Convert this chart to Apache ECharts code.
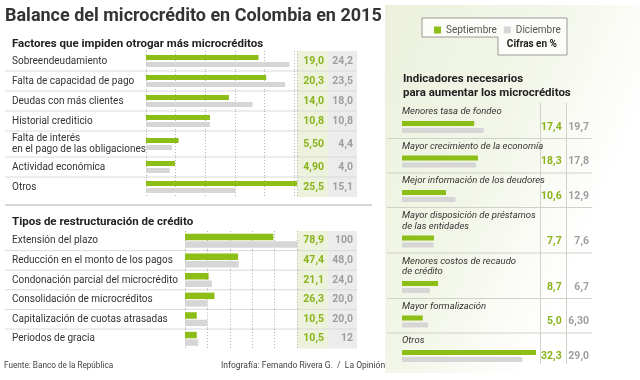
<!DOCTYPE html>
<html><head><meta charset="utf-8">
<script src="https://cdn.jsdelivr.net/npm/echarts@6/dist/echarts.min.js"></script>
<style>html,body{margin:0;padding:0;background:#fff}#c{width:640px;height:380px}</style>
</head><body><div id="c"></div>
<script>
// ---------- data ----------
const titleText = 'Balance del microcrédito en Colombia en 2015';
const legendNames = ['Septiembre', 'Diciembre'];
const unitNote = 'Cifras en %';

const factorHeading = 'Factores que impiden otrogar más microcréditos';
const factorLabels = ['Sobreendeudamiento', 'Falta de capacidad de pago', 'Deudas con más clientes',
  'Historial crediticio', 'Falta de interés\nen el pago de las obligaciones', 'Actividad económica', 'Otros'];
const factorSep = ['19,0', '20,3', '14,0', '10,8', '5,50', '4,90', '25,5'];
const factorDic = ['24,2', '23,5', '18,0', '10,8', '4,4', '4,0', '15,1'];

const tiposHeading = 'Tipos de restructuración de crédito';
const tiposLabels = ['Extensión del plazo', 'Reducción en el monto de los pagos', 'Condonación parcial del microcrédito',
  'Consolidación de microcréditos', 'Capitalización de cuotas atrasadas', 'Periodos de gracia'];
const tiposSep = ['78,9', '47,4', '21,1', '26,3', '10,5', '10,5'];
const tiposDic = ['100', '48,0', '24,0', '20,0', '20,0', '12'];

const indHeading = 'Indicadores necesarios\npara aumentar los microcréditos';
const indLabels = ['Menores tasa de fondeo', 'Mayor crecimiento de la economía', 'Mejor información de los deudores',
  'Mayor disposición de préstamos\nde las entidades', 'Menores costos de recaudo\nde crédito', 'Mayor formalización', 'Otros'];
const indSep = ['17,4', '18,3', '10,6', '7,7', '8,7', '5,0', '32,3'];
const indDic = ['19,7', '17,8', '12,9', '7,6', '6,7', '6,30', '29,0'];

const sourceText = 'Fuente: Banco de la República';
const creditText = 'Infografía: Fernando Rivera G.  /  La Opinión';

// ---------- styling / layout ----------
const FONT = 'Roboto, "Noto Sans", sans-serif';
const GREEN = '#8dbd17', GRAYBAR = '#d6d6d6';
const GREEN_TXT = '#8ab41b', GRAY_TXT = '#9e9e9e', DARK = '#333';
const num = s => parseFloat(s.replace(',', '.'));

const option = { animation: false, grid: [], xAxis: [], yAxis: [], series: [], graphic: [],
  legend: { data: legendNames, left: 434, top: 25, padding: 0, itemWidth: 7, itemHeight: 7, itemGap: 7, icon: 'rect',
    selectedMode: false, textStyle: { fontSize: 10, color: '#555', fontFamily: FONT } } };
const G = option.graphic;

function addRow(o) {
  const gi = option.grid.length;
  option.grid.push({ left: o.left, top: o.gridTop, width: o.width, height: o.gridH });
  option.xAxis.push({ type: 'value', gridIndex: gi, min: 0, max: o.max, interval: o.interval,
    axisLine: { show: false }, axisTick: { show: false }, axisLabel: { show: false },
    splitLine: { show: o.split, lineStyle: { type: [1, 2], color: '#b5b5b5', width: 1 } } });
  const yi = option.yAxis.length;
  const hid = { axisLine: { show: false }, axisTick: { show: false } };
  option.yAxis.push(Object.assign({ type: 'category', gridIndex: gi, data: [o.label], inverse: true,
    axisLabel: { show: o.labelMode === 'axis', align: 'left', margin: o.left - 12, color: DARK,
      fontSize: 10, fontFamily: FONT, lineHeight: 11 } }, hid));
  option.yAxis.push(Object.assign({ type: 'category', gridIndex: gi, position: 'right', data: [o.sep],
    axisLabel: { align: 'right', margin: o.vm1, color: GREEN_TXT, fontWeight: 'bold', fontSize: 10.5, fontFamily: FONT } }, hid));
  option.yAxis.push(Object.assign({ type: 'category', gridIndex: gi, position: 'right', data: [o.dic],
    axisLabel: { align: 'right', margin: o.vm2, color: GRAY_TXT, fontWeight: 'bold', fontSize: 10.5, fontFamily: FONT } }, hid));
  option.series.push({ type: 'bar', name: legendNames[0], xAxisIndex: gi, yAxisIndex: yi, data: [num(o.sep)],
    barWidth: o.barWidth, barGap: o.barGap, itemStyle: { color: GREEN }, silent: true,
    label: o.labelMode === 'series' ? { show: true, formatter: '{b}', position: [0, -4], align: 'left',
      verticalAlign: 'bottom', fontStyle: 'italic', fontSize: 9.5, lineHeight: 10.5, color: DARK, fontFamily: FONT } : { show: false } });
  option.series.push({ type: 'bar', name: legendNames[1], xAxisIndex: gi, yAxisIndex: yi, data: [num(o.dic)],
    barWidth: o.barWidth, barGap: o.barGap, itemStyle: { color: GRAYBAR }, silent: true });
}

function leftSection(labels, sep, dic, cfg) {
  let t = cfg.top;
  const tops = [];
  labels.forEach((lab, i) => {
    const h = cfg.base + cfg.extra * (lab.split('\n').length - 1);
    tops.push(t);
    addRow({ label: lab, sep: sep[i], dic: dic[i], gridTop: t, gridH: h, left: cfg.left, width: cfg.width,
      max: cfg.max, interval: cfg.interval, split: true, barWidth: cfg.barWidth, barGap: cfg.barGap,
      vm1: cfg.vm1, vm2: cfg.vm2, labelMode: 'axis' });
    t += h;
  });
  const colR = cfg.left + cfg.width;
  G.push({ type: 'rect', z: -5, shape: { x: colR, y: cfg.top, width: 31, height: t - cfg.top }, style: { fill: '#edf2dc' } });
  G.push({ type: 'rect', z: -5, shape: { x: colR + 31, y: cfg.top, width: 29, height: t - cfg.top }, style: { fill: '#ececec' } });
  tops.slice(1).forEach(y => G.push({ type: 'line', z: -4, shape: { x1: 5, y1: y, x2: colR + 60, y2: y },
    style: { stroke: '#dadada', lineWidth: 1 } }));
}

leftSection(factorLabels, factorSep, factorDic, { top: 51, base: 20, extra: 6, left: 146, width: 151, max: 25.5,
  interval: 5, barWidth: 5, barGap: '40%', vm1: 27, vm2: 56 });
leftSection(tiposLabels, tiposSep, tiposDic, { top: 231, base: 19.6, extra: 6, left: 185, width: 112, max: 100,
  interval: 20, barWidth: 6.5, barGap: '15%', vm1: 27, vm2: 56 });

// right panel
(function () {
  let t = 104;
  const tops = [];
  indLabels.forEach((lab, i) => {
    const ex = lab.split('\n').length - 1;
    const h = 34.5 + 11 * ex;
    const c = t + 23 + 11 * ex;
    tops.push(t);
    addRow({ label: lab, sep: indSep[i], dic: indDic[i], gridTop: c - 7, gridH: 14, left: 402, width: 134,
      max: 32.3, interval: 5, split: false, barWidth: 5, barGap: '40%', vm1: 25.7, vm2: 53, labelMode: 'series' });
    t += h;
  });
  tops.slice(1).forEach(y => G.push({ type: 'line', z: -4, shape: { x1: 387, y1: y, x2: 592, y2: y },
    style: { stroke: '#cfd2c8', lineWidth: 1 } }));
  [540.5, 566.5].forEach(x => G.push({ type: 'line', z: -4, shape: { x1: x, y1: 103, x2: x, y2: 364 },
    style: { stroke: '#cfd2c8', lineWidth: 1 } }));
})();

// decorations & texts
G.push({ type: 'rect', z: -10, shape: { x: 385, y: 5, width: 255, height: 368 },
  style: { fill: new echarts.graphic.LinearGradient(0, 0, 1, 0.3, [
    { offset: 0, color: '#ecf1dd' }, { offset: 0.55, color: '#f2f6e8' }, { offset: 0.85, color: '#fbfcf8' }, { offset: 1, color: '#ffffff' }]) } });
G.push({ type: 'polygon', z: -3, shape: { points: [[422, 18], [567, 18], [567, 55], [498, 55], [498, 37], [422, 37]] },
  style: { fill: '#fcfdf9', stroke: '#9a9a9a', lineWidth: 1 } });
G.push({ type: 'line', z: -4, shape: { x1: 5, y1: 205, x2: 372, y2: 205 }, style: { stroke: '#d6d6d6', lineWidth: 2 } });

function txt(x, y, text, size, weight, color, extra) {
  G.push({ type: 'text', x: x, y: y, z: 5, style: Object.assign({ text: text, fontSize: size, fontWeight: weight,
    fontFamily: FONT, fill: color, verticalAlign: 'middle', align: 'left' }, extra || {}) });
}
txt(5, 16, titleText, 18, 'bold', '#333');
txt(12, 44, factorHeading, 11.5, 'bold', '#222');
txt(12, 222, tiposHeading, 11.5, 'bold', '#222');
txt(403, 86, indHeading, 11.5, 'bold', '#222', { lineHeight: 14 });
txt(557, 44, unitNote, 10, 'bold', '#222', { align: 'right' });
txt(4, 366, sourceText, 8.2, 'normal', '#444');
txt(221, 366, creditText, 8.5, 'normal', '#444');

const chart = echarts.init(document.getElementById('c'), null, { renderer: 'canvas' });
chart.setOption(option);
</script>
</body></html>
